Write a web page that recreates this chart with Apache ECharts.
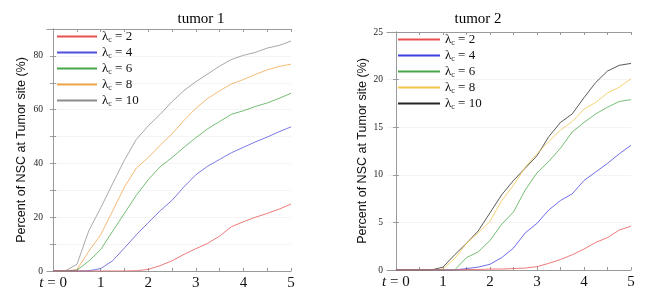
<!DOCTYPE html>
<html>
<head>
<meta charset="utf-8">
<script src="https://cdn.jsdelivr.net/npm/echarts@6/dist/echarts.min.js"></script>
<style>
html,body{margin:0;padding:0;background:#fff;}
#c{width:652px;height:296px;}
</style>
</head>
<body>
<div id="c"></div>
<script>
// ---------- data ----------
const tGrid = [0,0.25,0.5,0.75,1,1.25,1.5,1.75,2,2.25,2.5,2.75,3,3.25,3.5,3.75,4,4.25,4.5,4.75,5];
const lambdas = [2,4,6,8,10];
const xTickLabels = [0,1,2,3,4,5];

// tumor 1 (percent)
const t1_l2  = [0,0,0,0,0,0,0,0.1,0.6,2.0,3.8,6.2,8.3,10.3,13.0,16.5,18.3,20.0,21.4,23.0,24.9];
const t1_l4  = [0,0,0,0.1,0.9,3.8,8.6,13.5,18.0,22.4,26.3,31.3,35.8,39.0,41.5,44.0,46.0,48.0,49.8,51.8,53.6];
const t1_l6  = [0,0,0.3,3.7,8.0,14.8,21.5,28.2,34.0,38.8,42.2,46.0,49.6,52.9,55.6,58.3,59.6,61.2,62.5,64.2,66.1];
const t1_l8  = [0,0,0.5,7.4,13.5,22.3,31.3,38.3,42.2,46.8,51.0,56.0,60.5,64.2,67.0,69.6,71.2,73.1,74.8,76.1,76.9];
const t1_l10 = [0,0,2.5,15.0,23.5,32.5,41.3,49.0,54.0,58.3,63.0,67.1,70.4,73.3,76.2,78.7,80.2,81.3,82.9,83.9,85.5];

// tumor 2 (percent)
const t2_l2  = [0,0,0,0,0,0,0.05,0.05,0.1,0.1,0.15,0.2,0.35,0.7,1.1,1.6,2.2,2.9,3.4,4.2,4.6];
const t2_l4  = [0,0,0,0,0,0,0.15,0.3,0.6,1.3,2.3,3.9,4.9,6.3,7.3,8.0,9.4,10.3,11.2,12.2,13.1];
const t2_l6  = [0,0,0,0,0,0,1.3,1.9,3.1,4.8,6.1,8.4,10.2,11.4,12.8,14.5,15.5,16.4,17.1,17.7,17.9];
const t2_l8  = [0,0,0,0,0.1,1.2,2.8,3.9,5.1,7.3,8.9,10.8,12.2,13.5,14.7,15.6,16.9,17.6,18.6,19.2,20.1];
const t2_l10 = [0,0,0,0,0.3,1.6,2.8,4.1,6.0,7.9,9.4,10.7,12.0,14.0,15.5,16.4,18.1,19.7,20.9,21.5,21.7];

const colors1 = ['#e85050','#5050dc','#48a848','#f0a448','#8c8c8c'];
const colors2 = ['#e85050','#4040e0','#48a848','#f2c448','#262626'];

// ---------- build ----------
const serif = 'Liberation Serif';
const xTickVals = [0,0.5,1,1.5,2,2.5,3,3.5,4,4.5,5];
const zip = v => tGrid.map((t,i)=>[t,v[i]]);

const set1 = [t1_l2,t1_l4,t1_l6,t1_l8,t1_l10];
const set2 = [t2_l2,t2_l4,t2_l6,t2_l8,t2_l10];

const series = [];
lambdas.forEach((l,i)=>{
  series.push({name:'A'+l,type:'line',xAxisIndex:0,yAxisIndex:0,data:zip(set1[i]),symbol:'none',
    lineStyle:{width:0.9,color:colors1[i],opacity:0.85},itemStyle:{color:colors1[i]},z:10-i});
});
lambdas.forEach((l,i)=>{
  series.push({name:'B'+l,type:'line',xAxisIndex:2,yAxisIndex:2,data:zip(set2[i]),symbol:'none',
    lineStyle:{width:0.9,color:colors2[i],opacity:0.85},itemStyle:{color:colors2[i]},z:10-i});
});

const legendFmt = n => '{l|λ}{s|c}{t| = ' + n.slice(1) + '}';
const legendRich = {
  l:{fontFamily:serif,fontSize:13,color:'#111'},
  s:{fontFamily:serif,fontSize:8,color:'#111',padding:[6,0,0,0]},
  t:{fontFamily:serif,fontSize:13,color:'#111'}
};

const axisCol = '#9a9a9a';
function xAxes(grid,min){
  const base = {type:'value',gridIndex:grid,min:min,max:5,
    axisLine:{show:true,onZero:false,lineStyle:{color:axisCol}},
    axisTick:{show:true,inside:true,length:3,customValues:xTickVals,lineStyle:{color:axisCol}},
    splitLine:{show:false}};
  return [
    Object.assign({},base,{position:'bottom',
      axisLabel:{show:true,customValues:xTickLabels,margin:5,fontFamily:serif,fontSize:15,color:'#111',
        formatter:v=> v===0 ? '{i|t} = 0' : String(v),
        rich:{i:{fontFamily:serif,fontStyle:'italic',fontSize:15,color:'#111'}}}}),
    Object.assign({},base,{position:'top',axisLabel:{show:false}})
  ];
}
function yAxes(grid,max,interval,labelVals,name,gap){
  const base = {type:'value',gridIndex:grid,min:0,max:max,interval:interval,
    axisLine:{show:true,lineStyle:{color:axisCol}},
    axisTick:{show:true,inside:true,length:3,lineStyle:{color:axisCol}},
    splitLine:{show:true,lineStyle:{color:'#f4f4f4',width:1}}};
  return [
    Object.assign({},base,{position:'left',
      name:name,nameLocation:'middle',nameGap:gap,nameRotate:90,
      nameTextStyle:{fontFamily:'Liberation Sans',fontSize:12.5,color:'#111'},
      axisLabel:{show:true,customValues:labelVals,margin:4,fontFamily:serif,fontSize:9.5,color:'#222'}}),
    Object.assign({},base,{position:'right',axisLabel:{show:false},splitLine:{show:false}})
  ];
}

const yName = 'Percent of NSC at Tumor site (%)';
const option = {
  backgroundColor:'#fff',
  animation:false,
  title:[
    {text:'tumor 1',left:196,top:7,textAlign:'center',textStyle:{fontFamily:serif,fontSize:15,fontWeight:'normal',color:'#000'}},
    {text:'tumor 2',left:473,top:7,textAlign:'center',textStyle:{fontFamily:serif,fontSize:15,fontWeight:'normal',color:'#000'}}
  ],
  grid:[
    {left:47,right:361,top:29,bottom:25},
    {left:387,right:21,top:32,bottom:26}
  ],
  xAxis:[...xAxes(0,-0.13),...xAxes(1,-0.19)],
  yAxis:[...yAxes(0,90,10,[0,20,40,60,80],yName,19),...yAxes(1,25,5,[0,5,10,15,20,25],yName,18)],
  legend:[
    {data:lambdas.map(l=>'A'+l),orient:'vertical',left:57,top:30,itemWidth:40,itemHeight:2,itemGap:2.5,
      icon:'rect',formatter:legendFmt,textStyle:{rich:legendRich},padding:0},
    {data:lambdas.map(l=>'B'+l),orient:'vertical',left:398,top:33,itemWidth:42,itemHeight:2,itemGap:2.5,
      icon:'rect',formatter:legendFmt,textStyle:{rich:legendRich},padding:0}
  ],
  series:series
};
const chart = echarts.init(document.getElementById('c'),null,{renderer:'canvas'});
chart.setOption(option);
</script>
</body>
</html>
